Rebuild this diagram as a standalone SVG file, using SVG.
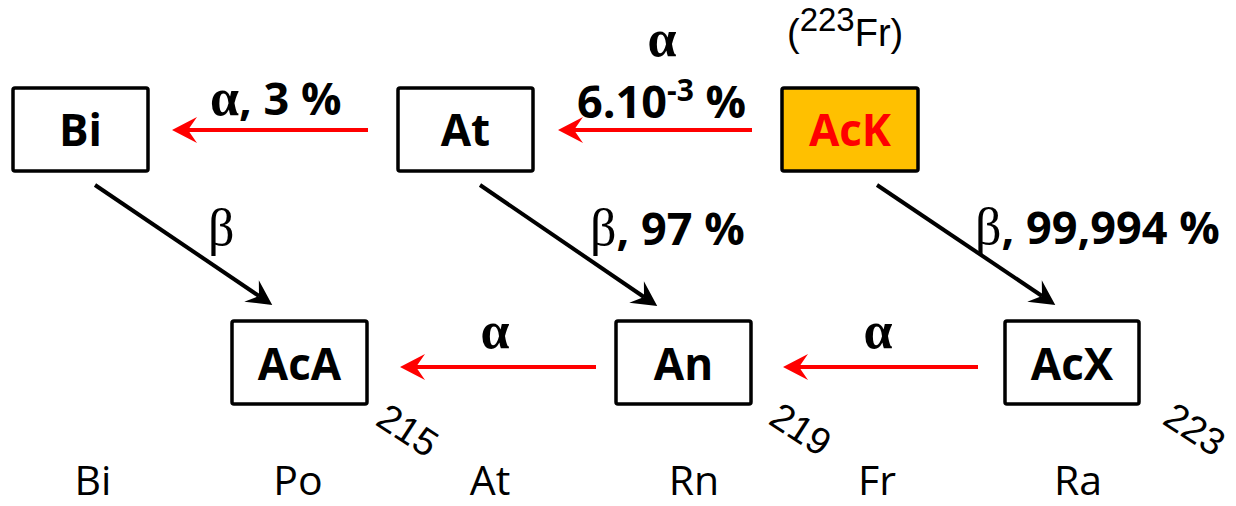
<svg xmlns="http://www.w3.org/2000/svg" width="1236" height="506" viewBox="0 0 1236 506">
  <style>
    .box { fill: #ffffff; stroke: #000000; stroke-width: 3.5; }
    .hot { fill: #FFC000; }
    .name { font-family: "Open Sans", "Liberation Sans", sans-serif; font-weight: bold; font-size: 44px; text-anchor: middle; fill: #000000; }
    .lbl { font-family: "Open Sans", "Liberation Sans", sans-serif; font-weight: bold; font-size: 45px; fill: #000000; }
    .gr { font-family: "Liberation Serif", "DejaVu Serif", serif; font-size: 52px; }
    .thin { font-weight: normal; }
    .el { font-family: "Open Sans", "Liberation Sans", sans-serif; font-size: 41px; text-anchor: middle; fill: #000000; }
    .mass { font-family: "Liberation Sans", Arial, sans-serif; font-size: 38px; fill: #000000; }
    .red { stroke: #FF0000; stroke-width: 4; fill: none; }
    .blk { stroke: #000000; stroke-width: 4; fill: none; }
  </style>
  <defs>
    <marker id="headRed" markerUnits="userSpaceOnUse" markerWidth="30" markerHeight="30" viewBox="-10 -15 30 30" refX="0" refY="0" orient="auto" overflow="visible">
      <path d="M16,0 L-9,-13 L0,0 L-9,13 Z" fill="#FF0000"/>
    </marker>
    <marker id="headBlk" markerUnits="userSpaceOnUse" markerWidth="30" markerHeight="30" viewBox="-10 -15 30 30" refX="0" refY="0" orient="auto" overflow="visible">
      <path d="M16,0 L-9,-13 L0,0 L-9,13 Z" fill="#000000"/>
    </marker>
  </defs>

  <!-- decay connectors -->
  <g id="connectors">
    <line class="red" x1="368" y1="130" x2="188" y2="130" marker-end="url(#headRed)"/>
    <line class="red" x1="752" y1="130" x2="574" y2="130" marker-end="url(#headRed)"/>
    <line class="red" x1="596" y1="367" x2="416" y2="367" marker-end="url(#headRed)"/>
    <line class="red" x1="978" y1="367" x2="799" y2="367" marker-end="url(#headRed)"/>
    <line class="blk" x1="95" y1="185" x2="259" y2="296" marker-end="url(#headBlk)"/>
    <line class="blk" x1="480" y1="185" x2="644" y2="297" marker-end="url(#headBlk)"/>
    <line class="blk" x1="877" y1="185" x2="1042" y2="296" marker-end="url(#headBlk)"/>
  </g>

  <!-- nuclide nodes -->
  <g id="node-bi">
    <rect class="box" x="13" y="88" width="135" height="83" rx="2"/>
    <text class="name" x="80.5" y="146">Bi</text>
  </g>
  <g id="node-at">
    <rect class="box" x="398" y="88" width="135" height="83" rx="2"/>
    <text class="name" x="465.5" y="146">At</text>
  </g>
  <g id="node-ack">
    <rect class="box hot" x="782" y="88" width="136" height="83" rx="2"/>
    <text class="name" x="850" y="146" style="fill:#FF0000">AcK</text>
  </g>
  <g id="node-aca">
    <rect class="box" x="232" y="321" width="135" height="83" rx="2"/>
    <text class="name" x="299.5" y="380">AcA</text>
  </g>
  <g id="node-an">
    <rect class="box" x="616" y="321" width="135" height="83" rx="2"/>
    <text class="name" x="683.5" y="380">An</text>
  </g>
  <g id="node-acx">
    <rect class="box" x="1005" y="321" width="134" height="83" rx="2"/>
    <text class="name" x="1072" y="380">AcX</text>
  </g>

  <!-- decay labels -->
  <g id="labels">
    <text class="lbl" x="210" y="115"><tspan class="gr">α</tspan>, 3 %</text>
    <text class="lbl gr" x="662" y="56" text-anchor="middle">α</text>
    <text class="lbl" x="577" y="118">6.10<tspan font-size="30" dy="-17">-3</tspan><tspan dy="17"> %</tspan></text>
    <text class="mass" x="787" y="46" font-size="48">(<tspan font-size="33" dy="-15">223</tspan><tspan dy="15">Fr)</tspan></text>
    <text class="gr" x="208" y="245">β</text>
    <text class="lbl" x="590" y="245"><tspan class="gr thin">β</tspan>, 97 %</text>
    <text class="lbl" x="975" y="244"><tspan class="gr thin">β</tspan>, 99,994 %</text>
    <text class="lbl gr" x="495" y="348" text-anchor="middle">α</text>
    <text class="lbl gr" x="878" y="348" text-anchor="middle">α</text>
  </g>

  <!-- mass numbers -->
  <g id="mass-numbers">
    <text class="mass" transform="translate(374,424) rotate(33)">215</text>
    <text class="mass" transform="translate(767,423) rotate(33)">219</text>
    <text class="mass" transform="translate(1161,423) rotate(33)">223</text>
  </g>

  <!-- element row -->
  <g id="elements">
    <text class="el" x="93" y="495">Bi</text>
    <text class="el" x="298" y="495">Po</text>
    <text class="el" x="490" y="495">At</text>
    <text class="el" x="694" y="495">Rn</text>
    <text class="el" x="877" y="495">Fr</text>
    <text class="el" x="1078" y="495">Ra</text>
  </g>
</svg>
